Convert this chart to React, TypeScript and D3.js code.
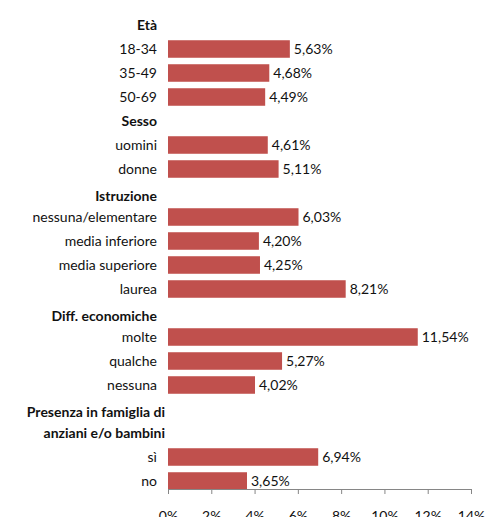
import React, { useEffect, useRef } from 'react';
import * as d3 from 'd3';

// rows from top to bottom; header rows carry no value
const rowLabels = [
    'Età', '18-34', '35-49', '50-69',
    'Sesso', 'uomini', 'donne',
    'Istruzione', 'nessuna/elementare', 'media inferiore', 'media superiore', 'laurea',
    'Diff. economiche', 'molte', 'qualche', 'nessuna',
    'Presenza in famiglia di', 'anziani e/o bambini', 'sì', 'no',
];
const headerRows = ['Età', 'Sesso', 'Istruzione', 'Diff. economiche', 'Presenza in famiglia di', 'anziani e/o bambini'];
const categories = ['18-34', '35-49', '50-69', 'uomini', 'donne', 'nessuna/elementare', 'media inferiore',
    'media superiore', 'laurea', 'molte', 'qualche', 'nessuna', 'sì', 'no'];
const values = [5.63, 4.68, 4.49, 4.61, 5.11, 6.03, 4.20, 4.25, 8.21, 11.54, 5.27, 4.02, 6.94, 3.65];
const ticks = [0, 2, 4, 6, 8, 10, 12, 14];

const W = 486;
const H = 517;
const FONT = 'Lato, "Open Sans", sans-serif';
const FS = 14;

const App: React.FC = () => {
    const svgRef = useRef<SVGSVGElement | null>(null);

    useEffect(() => {
        document.body.style.margin = '0';
        const svg = d3.select(svgRef.current);
        svg.selectAll('*').remove();

        const margin = { left: 168, right: 15, top: 13, bottom: 28 };
        const axisY = 489;

        const x = d3.scaleLinear().domain([0, 14]).range([margin.left, W - margin.right]);
        const y = d3.scaleBand<number>()
            .domain(d3.range(rowLabels.length))
            .range([margin.top, margin.top + rowLabels.length * 24])
            .paddingInner(0.27)
            .paddingOuter(0.135);

        const rowOf = (label: string, from = 0) => rowLabels.indexOf(label, from);

        // bars
        const data = categories.map((c, i) => ({
            cat: c,
            value: values[i],
            row: c === 'nessuna' ? rowOf('nessuna', 13) : rowOf(c),
        }));

        svg.append('g')
            .selectAll('rect')
            .data(data)
            .join('rect')
            .attr('x', x(0))
            .attr('y', d => y(d.row)!)
            .attr('width', d => x(d.value) - x(0))
            .attr('height', y.bandwidth())
            .attr('fill', '#C0504D');

        // value labels
        svg.append('g')
            .selectAll('text')
            .data(data)
            .join('text')
            .attr('x', d => x(d.value) + 4)
            .attr('y', d => y(d.row)! + y.bandwidth() / 2)
            .attr('dy', '0.35em')
            .attr('font-family', FONT)
            .attr('font-size', FS)
            .attr('fill', '#111')
            .text(d => d.value.toFixed(2).replace('.', ',') + '%');

        // category labels
        svg.append('g')
            .selectAll('text')
            .data(rowLabels.map((l, i) => ({ l, i })))
            .join('text')
            .attr('x', d => (d.l.startsWith('Presenza') || d.l.startsWith('anziani')) ? 165 : 157)
            .attr('y', d => {
                const base = y(d.i)! + y.bandwidth() / 2;
                if (d.l.startsWith('Presenza')) return base + 3;
                if (d.l.startsWith('anziani')) return base;
                return headerRows.includes(d.l) && d.l !== 'Età' && d.l !== 'Sesso' ? base + 3 : base;
            })
            .attr('dy', '0.35em')
            .attr('text-anchor', 'end')
            .attr('font-family', FONT)
            .attr('font-size', FS)
            .attr('font-weight', d => headerRows.includes(d.l) ? 'bold' : 'normal')
            .attr('fill', '#111')
            .text(d => d.l);

        // x axis
        const axis = svg.append('g')
            .attr('transform', `translate(0,${axisY})`)
            .call(d3.axisBottom(x).tickValues(ticks).tickSize(5).tickPadding(17).tickFormat(d => `${d}%`));
        axis.select('.domain').attr('stroke', '#868686').attr('d', `M${x(0)},0.5H${x(14)}`);
        axis.selectAll('.tick line').attr('stroke', '#868686');
        axis.selectAll('.tick text')
            .attr('font-family', FONT)
            .attr('font-size', FS)
            .attr('fill', '#111');
    }, []);

    return <svg ref={svgRef} width={W} height={H} style={{ display: 'block' }}></svg>;
};

export default App;
